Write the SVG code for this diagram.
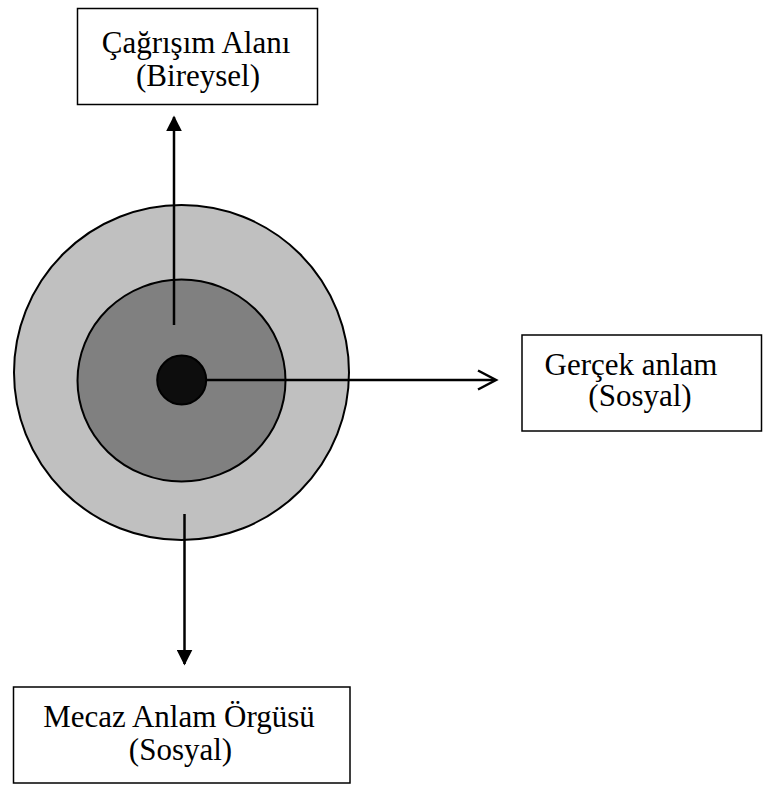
<svg xmlns="http://www.w3.org/2000/svg" width="763" height="786" viewBox="0 0 763 786">
<defs>
<style>
.box{fill:#fff;stroke:#000;stroke-width:1.5}
.lbl{font-family:"Liberation Serif","Times New Roman",serif;font-size:31px;fill:#000;text-anchor:middle}
.ring{stroke:#000;stroke-width:2}
.conn{stroke:#000;stroke-width:2.5;fill:none}
</style>
<marker id="tri" viewBox="0 0 10 10" refX="9" refY="5" markerWidth="16" markerHeight="16" markerUnits="userSpaceOnUse" orient="auto">
<path d="M0,0 L10,5 L0,10 Z" fill="#000"/>
</marker>
</defs>
<rect width="763" height="786" fill="#fff"/>
<g id="circles">
<circle cx="181.5" cy="372.5" r="167.5" class="ring" fill="#c0c0c0"/>
<ellipse cx="181.5" cy="380.5" rx="104" ry="101" class="ring" fill="#808080"/>
<circle cx="181.7" cy="380" r="24.5" class="ring" fill="#0d0d0d"/>
</g>
<g id="node-cagrisim">
<rect x="77.5" y="8.5" width="240" height="96" class="box"/>
<text x="196" y="53" class="lbl">Çağrışım Alanı</text>
<text x="198" y="86" class="lbl">(Bireysel)</text>
</g>
<g id="node-gercek">
<rect x="522" y="335" width="239.5" height="96" class="box"/>
<text x="631" y="375" class="lbl">Gerçek anlam</text>
<text x="640" y="406" class="lbl">(Sosyal)</text>
</g>
<g id="node-mecaz">
<rect x="13.5" y="687" width="336.5" height="96" class="box"/>
<text x="179" y="727" class="lbl">Mecaz Anlam Örgüsü</text>
<text x="180.5" y="760" class="lbl">(Sosyal)</text>
</g>
<g id="connectors">
<line x1="174" y1="325" x2="174" y2="117" class="conn" marker-end="url(#tri)"/>
<line x1="184.5" y1="514" x2="184.5" y2="664" class="conn" marker-end="url(#tri)"/>
<line x1="206" y1="380" x2="495" y2="380" class="conn"/>
<path d="M478,370.5 L496,380 L478,389.5" class="conn"/>
</g>
</svg>
